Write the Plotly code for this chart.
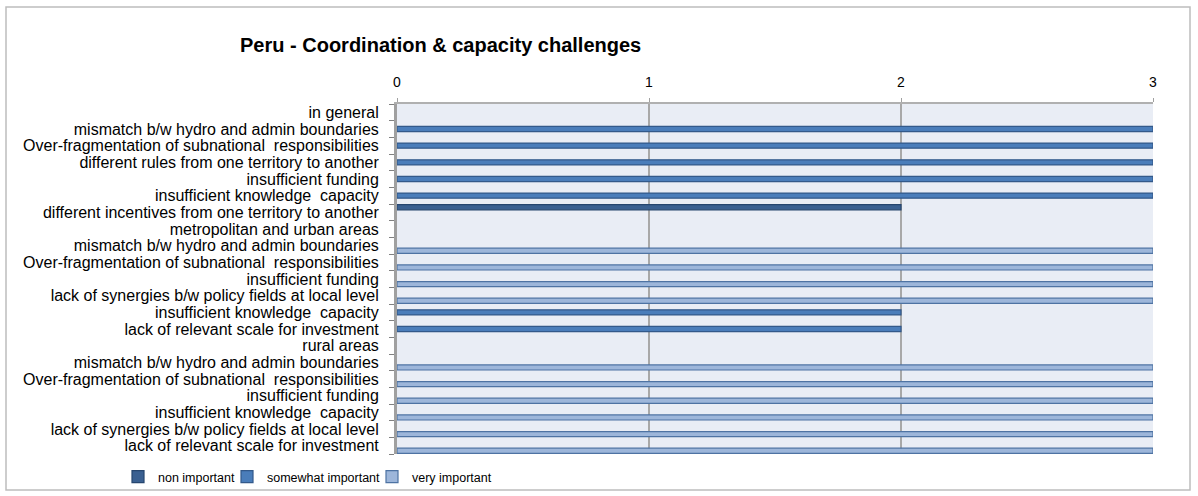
import plotly.graph_objects as go

categories = [
    "in general",
    "mismatch b/w hydro and admin boundaries",
    "Over-fragmentation of subnational  responsibilities",
    "different rules from one territory to another",
    "insufficient funding",
    "insufficient knowledge  capacity",
    "different incentives from one territory to another",
    "metropolitan and urban areas",
    "mismatch b/w hydro and admin boundaries",
    "Over-fragmentation of subnational  responsibilities",
    "insufficient funding",
    "lack of synergies b/w policy fields at local level",
    "insufficient knowledge  capacity",
    "lack of relevant scale for investment",
    "rural areas",
    "mismatch b/w hydro and admin boundaries",
    "Over-fragmentation of subnational  responsibilities",
    "insufficient funding",
    "insufficient knowledge  capacity",
    "lack of synergies b/w policy fields at local level",
    "lack of relevant scale for investment",
]

non_important = [None, None, None, None, None, None, 2,
                 None, None, None, None, None, None, None,
                 None, None, None, None, None, None, None]
somewhat_important = [None, 3, 3, 3, 3, 3, None,
                      None, None, None, None, None, 2, 2,
                      None, None, None, None, None, None, None]
very_important = [None, None, None, None, None, None, None,
                  None, 3, 3, 3, 3, None, None,
                  None, 3, 3, 3, 3, 3, 3]

x_ticks = [0, 1, 2, 3]

# make duplicate category labels unique with zero-width spaces
seen = {}
cat_keys = []
for c in categories:
    n = seen.get(c, 0)
    cat_keys.append(c + "\u200b" * n)
    seen[c] = n + 1

FONT = "Liberation Sans"

# plot area in pixels
PL, PR, PT, PB = 397, 1153, 104, 454
W, H = 1198, 496
def px(x):
    return (x - PL) / (PR - PL)
def py(y):
    return (PB - y) / (PB - PT)

fig = go.Figure()
series = [
    ("non important", non_important, "#3A6091", "#26466F", "legend", 118),
    ("somewhat important", somewhat_important, "#4A7DBA", "#33598A", "legend2", 227),
    ("very important", very_important, "#9DB6DA", "#4E73A3", "legend3", 372),
]
legends = {}
for name, vals, fill, line, leg, lx in series:
    fig.add_trace(go.Bar(
        y=cat_keys, x=vals, name=name, orientation="h",
        marker=dict(color=fill, line=dict(color=line, width=1.2)),
        legend=leg,
    ))
    legends[leg] = dict(x=px(lx), xanchor="left", y=py(477), yanchor="middle",
                        font=dict(size=12.5, family=FONT, color="#000000"),
                        bgcolor="rgba(0,0,0,0)", borderwidth=0)

fig.update_layout(
    width=W, height=H,
    margin=dict(l=PL, r=W - PR, t=PT, b=H - PB, autoexpand=False),
    paper_bgcolor="white",
    plot_bgcolor="#E9EDF5",
    barmode="group", bargap=0.08, bargroupgap=0,
    font=dict(family=FONT, size=16, color="#000000"),
    showlegend=True,
    **legends,
    xaxis=dict(side="top", range=[0, 3], tickvals=x_ticks, ticktext=[str(t) for t in x_ticks],
               showgrid=True, gridcolor="#A8A8A8", gridwidth=2,
               showline=True, linecolor="#B0B0B0", linewidth=2,
               ticks="outside", ticklen=4, tickcolor="#A0A0A0", ticklabelstandoff=5,
               tickfont=dict(size=14),
               zeroline=False, fixedrange=True),
    yaxis=dict(type="category", categoryorder="array", categoryarray=cat_keys,
               tickmode="array", tickvals=cat_keys, ticktext=categories,
               autorange="reversed", tickson="boundaries",
               ticks="outside", ticklen=5, tickcolor="#808080",
               showline=True, linecolor="#A0A0A0", linewidth=3,
               showgrid=False, ticklabelstandoff=12, fixedrange=True),
    annotations=[dict(text="<b>Peru - Coordination & capacity challenges</b>",
                      xref="paper", yref="paper", x=px(440), y=py(45),
                      xanchor="center", yanchor="middle", showarrow=False,
                      font=dict(size=20, family=FONT, color="#000000"))],
    shapes=[dict(type="rect", xref="paper", yref="paper",
                 x0=px(6), x1=px(1190), y0=py(490), y1=py(7),
                 line=dict(color="#BDBDBD", width=1.5), layer="below")],
)

fig.write_html("out.html", config={"displayModeBar": False},
               post_script="document.body.style.margin='0';")
